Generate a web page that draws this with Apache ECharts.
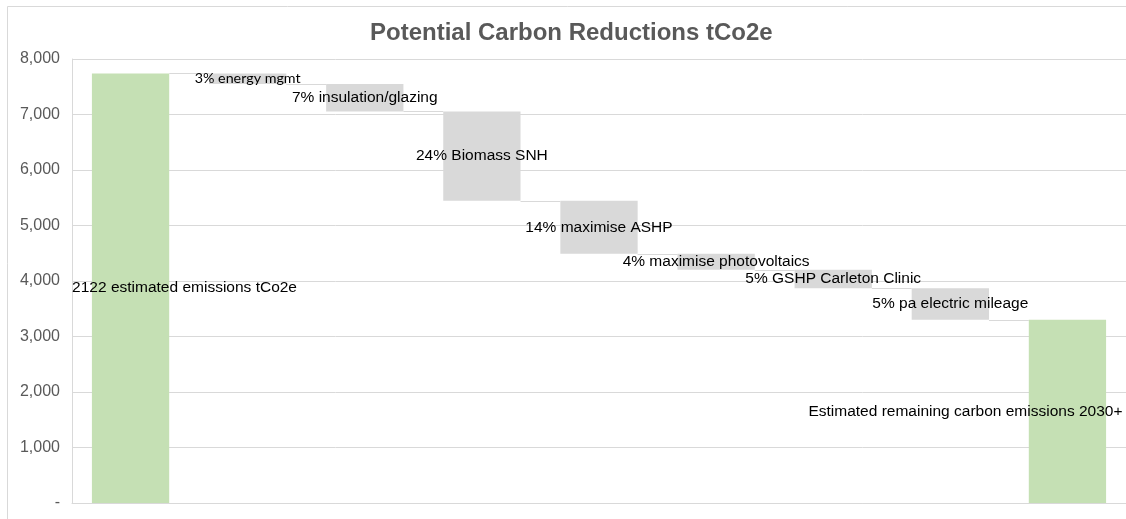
<!DOCTYPE html>
<html>
<head>
<meta charset="utf-8">
<title>Potential Carbon Reductions tCo2e</title>
<script src="https://cdn.jsdelivr.net/npm/echarts@6/dist/echarts.min.js"></script>
<style>
  html, body { margin: 0; padding: 0; background: #ffffff; }
  #chart { width: 1126px; height: 519px; }
</style>
</head>
<body>
<div id="chart"></div>
<script>
// Waterfall steps, left to right
const categories = [
  '2122 estimated emissions tCo2e',
  '3% energy mgmt',
  '7% insulation/glazing',
  '24% Biomass SNH',
  '14% maximise ASHP',
  '4% maximise photovoltaics',
  '5% GSHP Carleton Clinic',
  '5% pa electric mileage',
  'Estimated remaining carbon emissions 2030+'
];
// Starting total, each reduction, and the remaining total (tCo2e)
const startTotal = 7740;
const reductions = [190, 495, 1610, 955, 288, 333, 567];
const remainingTotal = 3302;
// Y axis ticks
const yTicks = [0, 1000, 2000, 3000, 4000, 5000, 6000, 7000, 8000];

// Build [index, low, high, kind] rows for the custom waterfall series
const rows = [];
rows.push([0, 0, startTotal, 0]);
let level = startTotal;
reductions.forEach(function (r, i) {
  rows.push([i + 1, level - r, level, 1]);
  level -= r;
});
rows.push([categories.length - 1, 0, remainingTotal, 0]);

// Horizontal nudges for the two total labels
const labelShift = { 0: 54, 8: -102 };

const GREEN = '#c5e0b4';
const GREY = '#d9d9d9';

function renderStep(params, api) {
  const idx = api.value(0);
  const low = api.value(1);
  const high = api.value(2);
  const kind = api.value(3);
  const band = api.size([1, 0])[0];
  const bw = band * 0.66;
  const top = api.coord([idx, high]);
  const bot = api.coord([idx, low]);
  const children = [{
    type: 'rect',
    shape: { x: top[0] - bw / 2, y: top[1], width: bw, height: bot[1] - top[1] },
    style: { fill: kind === 0 ? GREEN : GREY }
  }];
  if (idx < categories.length - 1) {
    const lvl = kind === 0 ? high : low;
    const p = api.coord([idx, lvl]);
    const nx = api.coord([idx + 1, lvl])[0];
    const y = Math.round(p[1]) + 0.5;
    children.push({
      type: 'line',
      shape: { x1: p[0] + bw / 2, y1: y, x2: nx - bw / 2, y2: y },
      style: { stroke: GREY, lineWidth: 1 }
    });
  }
  const small = idx === 1;
  children.push({
    type: 'text',
    z2: 10,
    style: {
      x: top[0] + (labelShift[idx] || 0),
      y: (top[1] + bot[1]) / 2,
      text: categories[idx],
      align: 'center',
      verticalAlign: 'middle',
      fill: '#000000',
      fontFamily: small ? 'Lato' : 'Liberation Sans',
      fontSize: small ? 14.3 : 15.5
    }
  });
  return { type: 'group', children: children };
}

const chart = echarts.init(document.getElementById('chart'), null, { renderer: 'canvas' });
chart.setOption({
  animation: false,
  backgroundColor: '#ffffff',
  title: {
    text: 'Potential Carbon Reductions tCo2e',
    left: 370,
    top: 21,
    padding: 0,
    textStyle: { fontFamily: 'Liberation Sans', fontSize: 24, fontWeight: 'bold', color: '#595959' }
  },
  graphic: [{
    type: 'rect',
    silent: true,
    shape: { x: 7.5, y: 6.5, width: 1300, height: 700 },
    style: { fill: 'none', stroke: GREY, lineWidth: 1 }
  }],
  grid: { left: 72, right: 0, top: 59, bottom: 16, containLabel: false },
  xAxis: {
    type: 'category',
    data: categories,
    axisLine: { show: true, lineStyle: { color: GREY } },
    axisTick: { show: false },
    axisLabel: { show: false },
    splitLine: { show: false }
  },
  yAxis: {
    type: 'value',
    min: yTicks[0],
    max: yTicks[yTicks.length - 1],
    interval: 1000,
    axisLine: { show: true, lineStyle: { color: GREY } },
    axisTick: { show: false },
    splitLine: { show: true, lineStyle: { color: GREY, width: 1 } },
    axisLabel: {
      margin: 12,
      color: '#595959',
      fontFamily: 'Liberation Sans',
      fontSize: 16,
      formatter: function (v) { return v === 0 ? '-' : v.toLocaleString('en-US'); }
    }
  },
  series: [{
    type: 'custom',
    renderItem: renderStep,
    encode: { x: 0, y: [1, 2] },
    data: rows
  }]
});
</script>
</body>
</html>
